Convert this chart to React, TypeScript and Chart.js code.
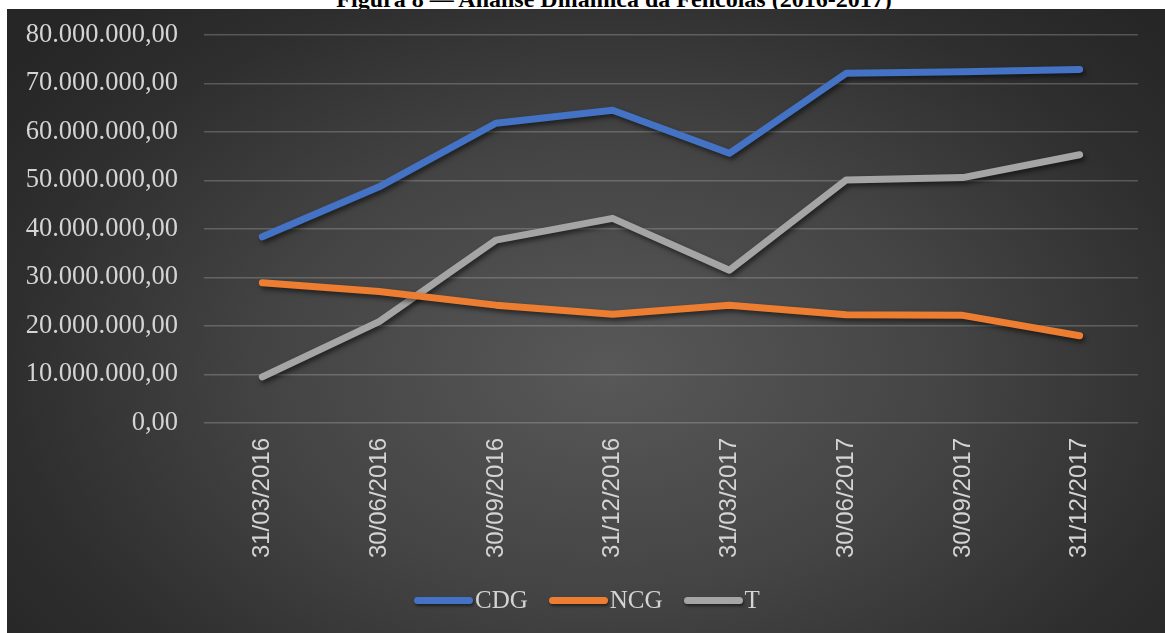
import React, { useEffect, useRef } from "react";
import { Chart, registerables } from "chart.js";

Chart.register(...registerables);

const categories = [
  "31/03/2016",
  "30/06/2016",
  "30/09/2016",
  "31/12/2016",
  "31/03/2017",
  "30/06/2017",
  "30/09/2017",
  "31/12/2017",
];

const cdgValues = [38400000, 48700000, 61800000, 64500000, 55600000, 72100000, 72400000, 72900000];
const ncgValues = [28900000, 27100000, 24300000, 22400000, 24300000, 22300000, 22200000, 18000000];
const tValues = [9500000, 20900000, 37700000, 42200000, 31500000, 50100000, 50600000, 55300000];

const seriesLabels = ["CDG", "NCG", "T"];
const seriesColors = ["#4472C4", "#ED7D31", "#A5A5A5"];

const yMin = 0;
const yMax = 80000000;
const yStep = 10000000;

const titleText = "Figura 8 — Análise Dinâmica da Fencolas (2016-2017)";

function formatBR(v: number): string {
  const intPart = Math.round(Math.abs(v)).toString();
  const withDots = intPart.replace(/\B(?=(\d{3})+(?!\d))/g, ".");
  return (v < 0 ? "-" : "") + withDots + ",00";
}

const shadowPlugin = {
  id: "lineShadow",
  beforeDatasetsDraw(chart: any) {
    const c = chart.ctx;
    c.save();
    c.shadowColor = "rgba(0,0,0,0.55)";
    c.shadowBlur = 5;
    c.shadowOffsetX = 2;
    c.shadowOffsetY = 3;
  },
  afterDatasetsDraw(chart: any) {
    chart.ctx.restore();
  },
};

export default function App() {
  const canvasRef = useRef<HTMLCanvasElement | null>(null);

  useEffect(() => {
    if (!canvasRef.current) return;
    const seriesValues = [cdgValues, ncgValues, tValues];
    const chart = new Chart(canvasRef.current, {
      type: "line",
      data: {
        labels: categories,
        datasets: seriesLabels.map((label, i) => ({
          label,
          data: seriesValues[i],
          borderColor: seriesColors[i],
          backgroundColor: seriesColors[i],
          borderWidth: 7,
          borderCapStyle: "round",
          borderJoinStyle: "round",
          pointRadius: 0,
          pointHoverRadius: 0,
          tension: 0,
          fill: false,
          clip: false,
        })),
      },
      options: {
        animation: false,
        responsive: false,
        events: [],
        layout: { padding: { top: 26, right: 27, left: 0, bottom: 0 } },
        plugins: {
          legend: { display: false },
          tooltip: { enabled: false },
          title: { display: false },
        },
        scales: {
          x: {
            type: "category",
            offset: true,
            grid: { display: false, drawTicks: false },
            border: { display: false },
            ticks: {
              autoSkip: false,
              minRotation: 90,
              maxRotation: 90,
              padding: 15,
              color: "#d4d4d4",
              font: { family: "'Liberation Sans', Arial, sans-serif", size: 24 },
            },
            afterFit: (s: any) => {
              s.height = 210;
            },
          },
          y: {
            min: yMin,
            max: yMax,
            grid: {
              color: "rgba(200,200,200,0.28)",
              lineWidth: 1.5,
              drawTicks: true,
              tickLength: 26,
              tickColor: "rgba(0,0,0,0)",
            },
            border: { display: false },
            ticks: {
              stepSize: yStep,
              padding: 0,
              color: "#d4d4d4",
              font: { family: "'Liberation Serif', 'Times New Roman', serif", size: 26.5 },
              callback: (v: any) => formatBR(Number(v)),
            },
            afterFit: (s: any) => {
              s.width = 197;
            },
          },
        },
      } as any,
      plugins: [shadowPlugin],
    });
    return () => chart.destroy();
  }, []);

  return (
    <div
      style={{
        position: "absolute",
        left: 0,
        top: 0,
        width: 1165,
        height: 633,
        background: "#ffffff",
        overflow: "hidden",
      }}
    >
      <div
        style={{
          position: "absolute",
          left: 0,
          top: -13,
          width: 1228,
          textAlign: "center",
          fontFamily: "'Liberation Serif', 'Times New Roman', serif",
          fontWeight: "bold",
          fontSize: 24,
          lineHeight: "24px",
          color: "#000",
          whiteSpace: "nowrap",
        }}
      >
        {titleText}
      </div>
      <div
        style={{
          position: "absolute",
          left: 7,
          top: 9,
          width: 1158,
          height: 624,
          background:
            "radial-gradient(ellipse 65% 80% at 52% 58%, #585858 0%, #444444 45%, #2e2e2e 80%, #262626 100%)",
        }}
      >
        <canvas
          ref={canvasRef}
          width={1158}
          height={624}
          style={{ position: "absolute", left: 0, top: 0, width: 1158, height: 624 }}
        />
        <div
          style={{
            position: "absolute",
            left: 407,
            top: 577,
            height: 28,
            display: "flex",
            alignItems: "center",
            fontFamily: "'Liberation Serif', 'Times New Roman', serif",
            fontSize: 25,
            color: "#d4d4d4",
            whiteSpace: "nowrap",
          }}
        >
          {seriesLabels.map((label, i) => (
            <div
              key={label}
              style={{ display: "flex", alignItems: "center", marginRight: i < seriesLabels.length - 1 ? 21 : 0 }}
            >
              <span
                style={{
                  display: "inline-block",
                  width: 59,
                  height: 7,
                  borderRadius: 4,
                  background: seriesColors[i],
                  marginRight: 2,
                  boxShadow: "1px 2px 3px rgba(0,0,0,0.5)",
                }}
              />
              <span style={{ lineHeight: "28px" }}>{label}</span>
            </div>
          ))}
        </div>
      </div>
    </div>
  );
}
